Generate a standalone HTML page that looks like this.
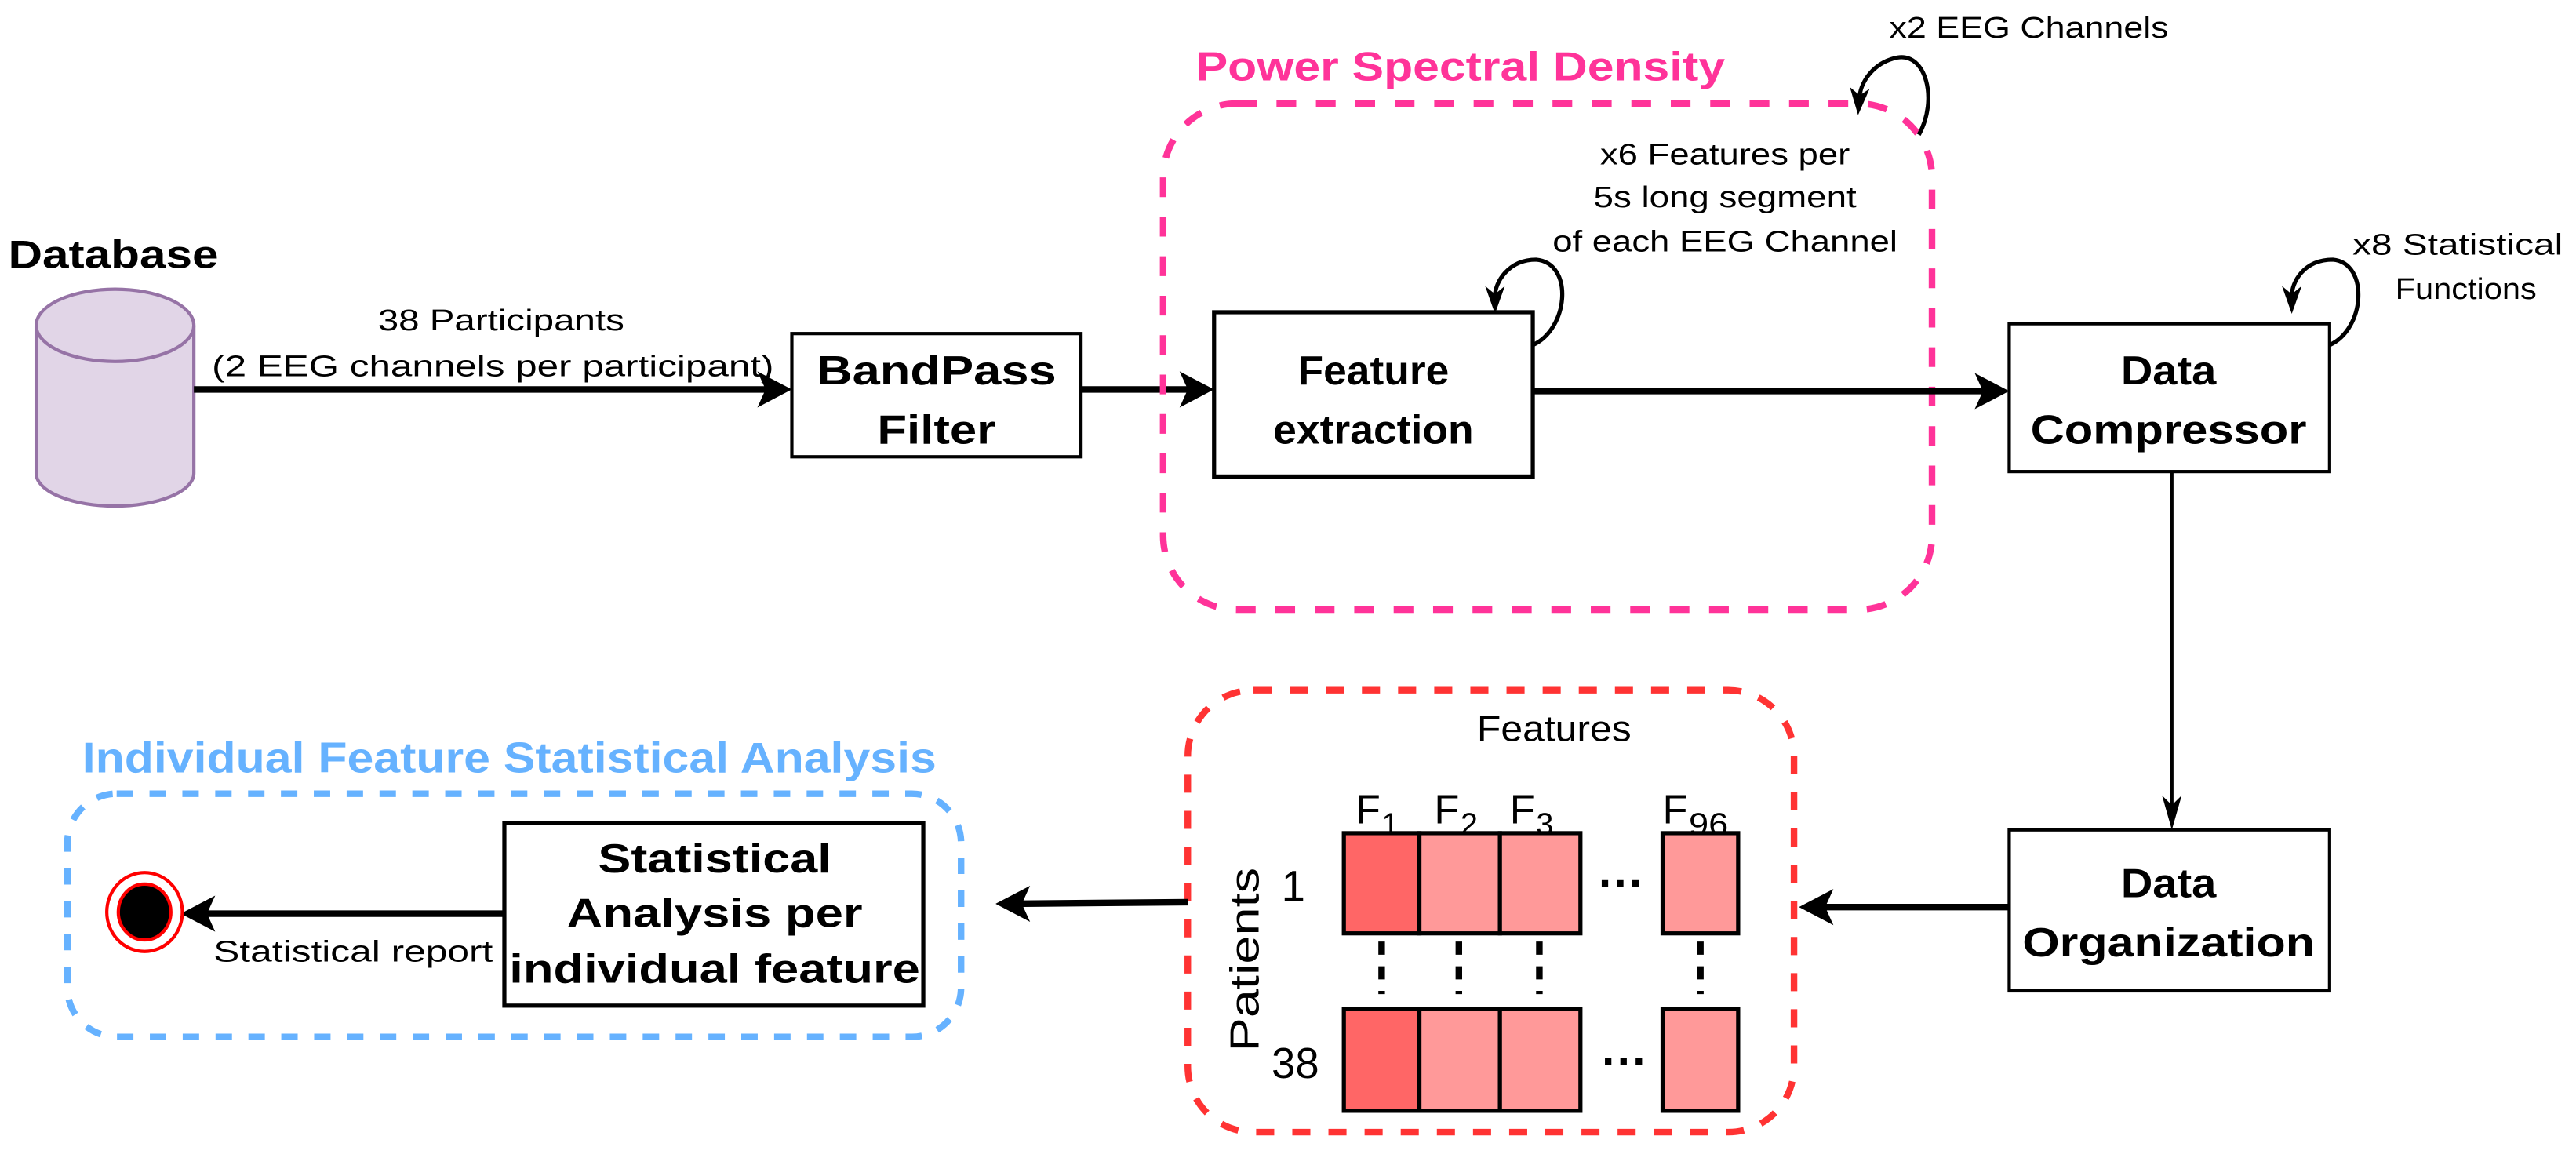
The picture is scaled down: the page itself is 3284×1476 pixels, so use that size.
<!DOCTYPE html>
<html><head><meta charset="utf-8"><style>html,body{margin:0;padding:0;background:#fff}svg{display:block}</style></head>
<body>
<svg width="3284" height="1476" viewBox="0 0 1568 704.7" preserveAspectRatio="none" xmlns="http://www.w3.org/2000/svg" font-family="Liberation Sans, sans-serif">
<rect width="1568" height="705" fill="#fff"/>
<!-- Database -->
<text x="5" y="163" font-size="24" font-weight="bold" textLength="128" lengthAdjust="spacingAndGlyphs">Database</text>
<path d="M22,198 L22,288 A48,20 0 0 0 118,288 L118,198" fill="#e1d5e7" stroke="#9673a6" stroke-width="2"/>
<ellipse cx="70" cy="198" rx="48" ry="22" fill="#e1d5e7" stroke="#9673a6" stroke-width="2"/>
<text x="305" y="201" font-size="18" text-anchor="middle" textLength="150" lengthAdjust="spacingAndGlyphs">38 Participants</text>
<text x="300" y="229" font-size="18" text-anchor="middle" textLength="342" lengthAdjust="spacingAndGlyphs">(2 EEG channels per participant)</text>
<line x1="118" y1="237" x2="470" y2="237" stroke="#000" stroke-width="4"/>
<path d="M482,237 L461,226 L466,237 L461,248 Z" fill="#000"/>
<rect x="482" y="203" width="176" height="75" fill="#fff" stroke="#000" stroke-width="2"/>
<text x="570" y="234" font-size="25" font-weight="bold" text-anchor="middle" textLength="146" lengthAdjust="spacingAndGlyphs">BandPass</text>
<text x="570" y="270" font-size="25" font-weight="bold" text-anchor="middle" textLength="72" lengthAdjust="spacingAndGlyphs">Filter</text>
<line x1="658" y1="237" x2="728" y2="237" stroke="#000" stroke-width="4"/>
<path d="M739,237 L718,226 L723,237 L718,248 Z" fill="#000"/>
<!-- PSD -->
<rect x="708" y="63" width="468" height="308" rx="45" fill="none" stroke="#ff3399" stroke-width="4" stroke-dasharray="12,12"/>
<text x="728" y="49" font-size="25" font-weight="bold" fill="#ff3399" textLength="322" lengthAdjust="spacingAndGlyphs">Power Spectral Density</text>
<text x="1235" y="23" font-size="18" text-anchor="middle" textLength="170" lengthAdjust="spacingAndGlyphs">x2 EEG Channels</text>
<path d="M1168,82 C1180,60 1172,32 1155,35 C1140,38 1133,50 1132,58" fill="none" stroke="#000" stroke-width="2.5"/>
<path d="M1131,70 L1126,53 L1132,58 L1138,54 Z" fill="#000"/>
<text x="1050" y="100" font-size="18" text-anchor="middle" textLength="152" lengthAdjust="spacingAndGlyphs">x6 Features per</text>
<text x="1050" y="126" font-size="18" text-anchor="middle" textLength="160" lengthAdjust="spacingAndGlyphs">5s long segment</text>
<text x="1050" y="153" font-size="18" text-anchor="middle" textLength="210" lengthAdjust="spacingAndGlyphs">of each EEG Channel</text>
<path d="M933,210 C955,200 958,160 935,158 C918,158 910,172 910,180" fill="none" stroke="#000" stroke-width="2.5"/>
<path d="M910,191 L904,174 L910,179 L916,174 Z" fill="#000"/>
<rect x="739" y="190" width="194" height="100" fill="#fff" stroke="#000" stroke-width="2.5"/>
<text x="836" y="234" font-size="25" font-weight="bold" text-anchor="middle" textLength="92" lengthAdjust="spacingAndGlyphs">Feature</text>
<text x="836" y="270" font-size="25" font-weight="bold" text-anchor="middle" textLength="122" lengthAdjust="spacingAndGlyphs">extraction</text>
<line x1="933" y1="238" x2="1212" y2="238" stroke="#000" stroke-width="4"/>
<path d="M1223,238 L1202,227 L1207,238 L1202,249 Z" fill="#000"/>
<!-- Data compressor -->
<rect x="1223" y="197" width="195" height="90" fill="#fff" stroke="#000" stroke-width="2"/>
<text x="1320" y="234" font-size="25" font-weight="bold" text-anchor="middle" textLength="58" lengthAdjust="spacingAndGlyphs">Data</text>
<text x="1320" y="270" font-size="25" font-weight="bold" text-anchor="middle" textLength="168" lengthAdjust="spacingAndGlyphs">Compressor</text>
<text x="1432" y="155" font-size="18" textLength="128" lengthAdjust="spacingAndGlyphs">x8 Statistical</text>
<text x="1458" y="182" font-size="18" textLength="86" lengthAdjust="spacingAndGlyphs">Functions</text>
<path d="M1418,210 C1440,200 1442,160 1420,158 C1402,158 1395,172 1395,180" fill="none" stroke="#000" stroke-width="2.5"/>
<path d="M1395,191 L1389,174 L1395,179 L1401,174 Z" fill="#000"/>
<line x1="1322" y1="287" x2="1322" y2="495" stroke="#000" stroke-width="2"/>
<path d="M1322,505 L1316,484 L1322,490 L1328,484 Z" fill="#000"/>
<!-- Data Organization -->
<rect x="1223" y="505" width="195" height="98" fill="#fff" stroke="#000" stroke-width="2"/>
<text x="1320" y="546" font-size="25" font-weight="bold" text-anchor="middle" textLength="58" lengthAdjust="spacingAndGlyphs">Data</text>
<text x="1320" y="582" font-size="25" font-weight="bold" text-anchor="middle" textLength="178" lengthAdjust="spacingAndGlyphs">Organization</text>
<line x1="1223" y1="552" x2="1106" y2="552" stroke="#000" stroke-width="4"/>
<path d="M1095,552 L1116,541 L1111,552 L1116,563 Z" fill="#000"/>
<!-- Features matrix -->
<rect x="723" y="420" width="369" height="269" rx="40" fill="none" stroke="#ff3333" stroke-width="4" stroke-dasharray="11,11"/>
<text x="946" y="451" font-size="22" text-anchor="middle" textLength="94" lengthAdjust="spacingAndGlyphs">Features</text>
<text x="825" y="501" font-size="25">F</text><text x="841" y="508" font-size="19">1</text>
<text x="873" y="501" font-size="25">F</text><text x="889" y="508" font-size="19">2</text>
<text x="919" y="501" font-size="25">F</text><text x="935" y="508" font-size="19">3</text>
<text x="1012" y="501" font-size="25">F</text><text x="1028" y="508" font-size="19" textLength="24" lengthAdjust="spacingAndGlyphs">96</text>
<g stroke="#000" stroke-width="2.5">
<rect x="818" y="507" width="46" height="61" fill="#ff6666"/>
<rect x="864" y="507" width="49" height="61" fill="#ff9999"/>
<rect x="913" y="507" width="49" height="61" fill="#ff9999"/>
<rect x="1012" y="507" width="46" height="61" fill="#ff9999"/>
<rect x="818" y="614" width="46" height="62" fill="#ff6666"/>
<rect x="864" y="614" width="49" height="62" fill="#ff9999"/>
<rect x="913" y="614" width="49" height="62" fill="#ff9999"/>
<rect x="1012" y="614" width="46" height="62" fill="#ff9999"/>
</g>
<text x="987" y="547" font-size="28" font-weight="bold" text-anchor="middle">···</text>
<text x="989" y="655" font-size="28" font-weight="bold" text-anchor="middle">···</text>
<g stroke="#000" stroke-width="4" stroke-dasharray="8,7">
<line x1="841" y1="573" x2="841" y2="605"/>
<line x1="888" y1="573" x2="888" y2="605"/>
<line x1="937" y1="573" x2="937" y2="605"/>
<line x1="1035" y1="573" x2="1035" y2="605"/>
</g>
<text x="780" y="548" font-size="26">1</text>
<text x="774" y="656" font-size="26">38</text>
<text transform="translate(766,640) rotate(-90)" font-size="25" textLength="112" lengthAdjust="spacingAndGlyphs">Patients</text>
<line x1="723" y1="549" x2="617" y2="550" stroke="#000" stroke-width="4"/>
<path d="M606,550 L627,539 L622,550 L627,561 Z" fill="#000"/>
<!-- Blue -->
<rect x="41" y="483" width="544" height="148" rx="30" fill="none" stroke="#66b2ff" stroke-width="4" stroke-dasharray="10,10"/>
<text x="50" y="470" font-size="26" font-weight="bold" fill="#66b2ff" textLength="520" lengthAdjust="spacingAndGlyphs">Individual Feature Statistical Analysis</text>
<rect x="307" y="501" width="255" height="111" fill="#fff" stroke="#000" stroke-width="2.5"/>
<text x="435" y="531" font-size="25" font-weight="bold" text-anchor="middle" textLength="142" lengthAdjust="spacingAndGlyphs">Statistical</text>
<text x="435" y="564" font-size="25" font-weight="bold" text-anchor="middle" textLength="180" lengthAdjust="spacingAndGlyphs">Analysis per</text>
<text x="435" y="598" font-size="25" font-weight="bold" text-anchor="middle" textLength="250" lengthAdjust="spacingAndGlyphs">individual feature</text>
<line x1="307" y1="556" x2="120" y2="556" stroke="#000" stroke-width="4"/>
<path d="M110,556 L131,545 L126,556 L131,567 Z" fill="#000"/>
<text x="215" y="585" font-size="18" text-anchor="middle" textLength="170" lengthAdjust="spacingAndGlyphs">Statistical report</text>
<ellipse cx="88" cy="555" rx="23" ry="24" fill="#fff" stroke="#ff0000" stroke-width="2"/>
<ellipse cx="88" cy="555" rx="16" ry="17" fill="#000" stroke="#ff0000" stroke-width="2"/>
</svg>
</body></html>
